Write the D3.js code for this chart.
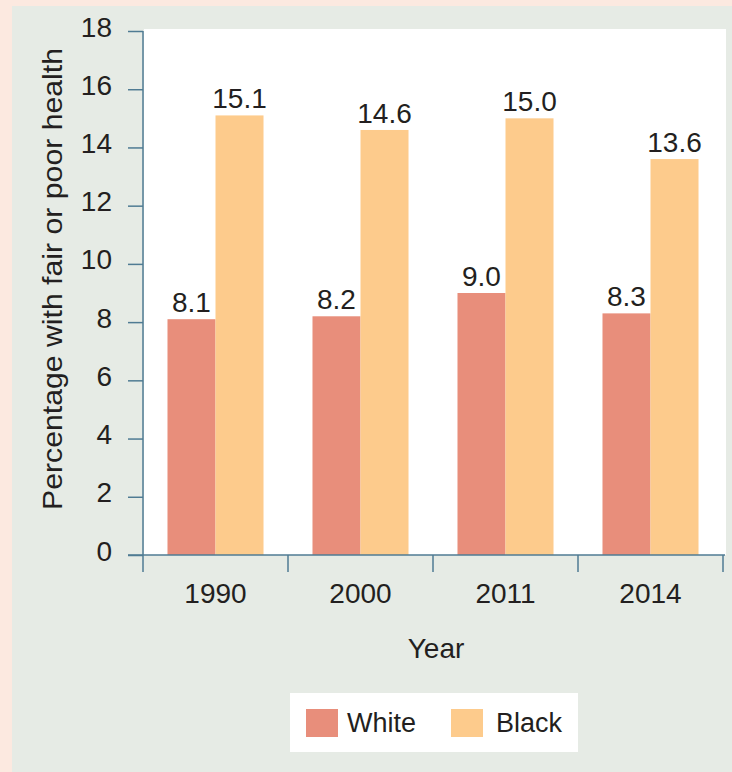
<!DOCTYPE html>
<html>
<head>
<meta charset="utf-8">
<script src="https://cdn.jsdelivr.net/npm/d3@7"></script>
<style>
  html, body { margin: 0; padding: 0; background: #fce9e0; }
  svg { display: block; }
  text { font-family: "Liberation Sans", Arial, sans-serif; fill: #231f20; }
</style>
</head>
<body>
<svg id="chart" width="732" height="772"></svg>
<script>
// Percentage reporting fair or poor health, by year and race
const years = ["1990", "2000", "2011", "2014"];
const seriesNames = ["White", "Black"];
const whiteValues = [8.1, 8.2, 9.0, 8.3];
const blackValues = [15.1, 14.6, 15.0, 13.6];
const yTicks = [0, 2, 4, 6, 8, 10, 12, 14, 16, 18];
const colors = ["#e88e7b", "#fdcb8c"];

const svg = d3.select("#chart");
const W = 732, H = 772;
const FS = 28;

// panel background
svg.append("rect").attr("x", 12).attr("y", 6).attr("width", W - 12).attr("height", H - 6)
  .attr("fill", "#e6ebe5");

const plot = { left: 143, right: 723, top: 29, bottom: 555 };

// white plotting field
svg.append("rect")
  .attr("x", plot.left + 1).attr("y", plot.top)
  .attr("width", plot.right - plot.left + 2).attr("height", plot.bottom - plot.top)
  .attr("fill", "#ffffff");

const x = d3.scaleBand().domain(years).range([plot.left, plot.right]).paddingInner(0).paddingOuter(0);
const xInner = d3.scaleBand().domain(seriesNames).range([0, x.bandwidth()]).paddingOuter(0.51).paddingInner(0);
const y = d3.scaleLinear().domain([0, 18]).range([plot.bottom, 31]);

const rows = years.map((yr, i) => ({ year: yr, vals: [
  { key: "White", v: whiteValues[i] },
  { key: "Black", v: blackValues[i] }
]}));

const groups = svg.append("g").selectAll("g").data(rows).join("g")
  .attr("transform", d => `translate(${x(d.year)},0)`);

groups.selectAll("rect").data(d => d.vals).join("rect")
  .attr("x", d => xInner(d.key))
  .attr("width", xInner.bandwidth())
  .attr("y", d => y(d.v))
  .attr("height", d => y(0) - y(d.v))
  .attr("fill", (d, i) => colors[i]);

groups.selectAll("text.val").data(d => d.vals).join("text")
  .attr("class", "val")
  .attr("x", d => xInner(d.key) + xInner.bandwidth() / 2)
  .attr("y", d => y(d.v) - 7)
  .attr("text-anchor", "middle")
  .attr("font-size", FS)
  .text(d => d.v.toFixed(1));

const axisColor = "#4f7b93";

// y axis
const yAxis = svg.append("g").attr("transform", `translate(${plot.left},0)`)
  .call(d3.axisLeft(y).tickValues(yTicks).tickSize(15).tickPadding(16).tickFormat(d3.format("d")));
yAxis.select(".domain").remove();
yAxis.append("line").attr("x1", 0).attr("x2", 0).attr("y1", y(18)).attr("y2", plot.bottom + 17)
  .attr("stroke", axisColor).attr("stroke-width", 1.5);
yAxis.selectAll(".tick line").attr("stroke", axisColor).attr("stroke-width", 1.5);
yAxis.selectAll(".tick text").attr("font-size", FS).attr("fill", "#231f20")
  .attr("font-family", "Liberation Sans, Arial, sans-serif").attr("dy", "0.18em");

// x axis baseline and category dividers
const xAxis = svg.append("g").attr("transform", `translate(0,${plot.bottom})`);
xAxis.append("line").attr("x1", 128).attr("x2", plot.right + 2).attr("y1", 0).attr("y2", 0)
  .attr("stroke", axisColor).attr("stroke-width", 1.5);
xAxis.selectAll("line.div").data(years.slice(1).concat(["end"])).join("line")
  .attr("class", "div")
  .attr("x1", (d, i) => i < years.length - 1 ? x(d) : plot.right)
  .attr("x2", (d, i) => i < years.length - 1 ? x(d) : plot.right)
  .attr("y1", 0).attr("y2", 17)
  .attr("stroke", axisColor).attr("stroke-width", 1.5);
xAxis.selectAll("text.yr").data(years).join("text")
  .attr("class", "yr")
  .attr("x", d => x(d) + x.bandwidth() / 2)
  .attr("y", 48)
  .attr("text-anchor", "middle")
  .attr("font-size", FS)
  .text(d => d);

// axis titles
svg.append("text")
  .attr("x", 436).attr("y", 658)
  .attr("text-anchor", "middle").attr("font-size", FS)
  .text("Year");
svg.append("text")
  .attr("transform", `translate(62,279) rotate(-90)`)
  .attr("text-anchor", "middle").attr("font-size", FS)
  .attr("textLength", 462).attr("lengthAdjust", "spacingAndGlyphs")
  .text("Percentage with fair or poor health");

// legend
const legend = svg.append("g");
legend.append("rect").attr("x", 290).attr("y", 693).attr("width", 288).attr("height", 59)
  .attr("fill", "#ffffff");
const legendX = [306, 451];
const items = legend.selectAll("g").data(seriesNames).join("g")
  .attr("transform", (d, i) => `translate(${legendX[i]},709)`);
items.append("rect").attr("width", 32).attr("height", 28).attr("fill", (d, i) => colors[i]);
items.append("text").attr("x", (d, i) => i === 0 ? 41 : 45).attr("y", 23)
  .attr("font-size", 27).text(d => d);
</script>
</body>
</html>
